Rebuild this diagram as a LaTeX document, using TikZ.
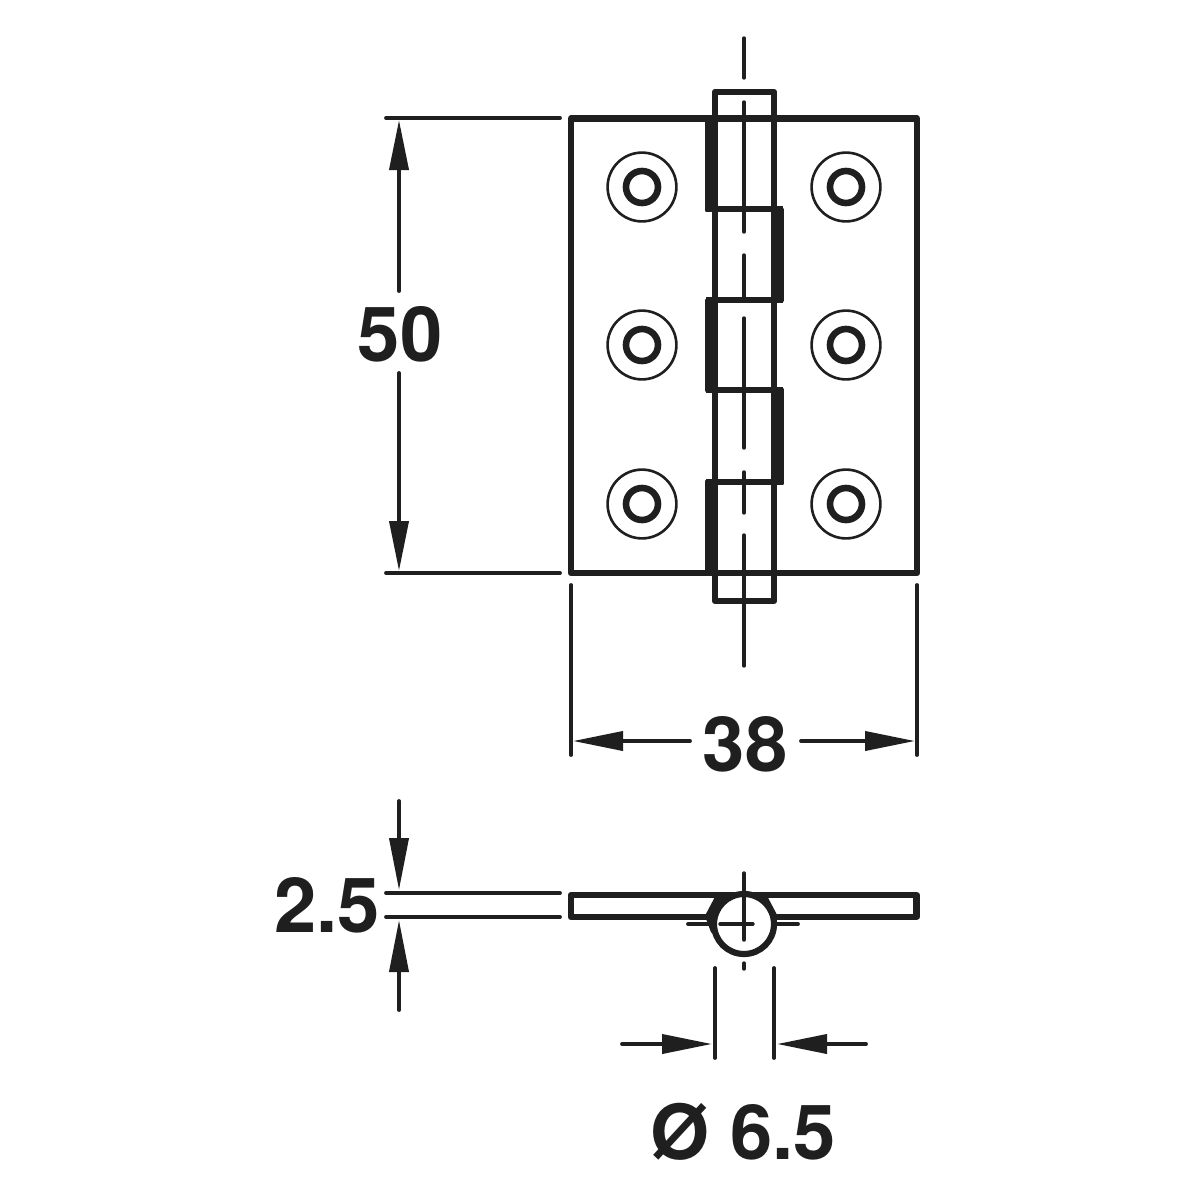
\documentclass[tikz,border=0pt]{standalone}
\usepackage{fontspec}
\setmainfont{TeX Gyre Heros}
\usetikzlibrary{arrows.meta}
\tikzset{
  thinl/.style={line width=1.9pt,line cap=round,black!88},
  center/.style={line width=1.7pt,line cap=round,black!88},
  part/.style={line width=3.3pt,line join=round,black!88},
  heavy/.style={fill=black!88,draw=black!88,line width=1pt,line join=round},
  dimtip/.style={-{Triangle[length=25pt,width=9.5pt]}},
  dimlabel/.style={font=\fontsize{38pt}{40pt}\bfseries\selectfont,inner sep=0pt,anchor=base,text=black!88}
}
\begin{document}
\begin{tikzpicture}[x=0.5pt,y=-0.5pt]
\useasboundingbox (0,0) rectangle (1200,1200);
% plate
\draw[part] (571,118.5) rectangle (917,573);
% pin end and thin edges
\draw[part] (715,118) -- (715,92) -- (774,92) -- (774,118);
\draw[part] (715,573) -- (715,601) -- (774,601) -- (774,573);
\draw[part] (774,118) -- (774,573);
\draw[part] (715,118) -- (715,573);
% knuckle separators
\draw[part] (706,209) -- (783,209);
\draw[part] (706,300) -- (783,300);
\draw[part] (706,390) -- (783,390);
\draw[part] (706,482) -- (783,482);
% thick knuckle edges
\fill[heavy] (706,118) rectangle (717,211);
\fill[heavy] (772,209) rectangle (783,301);
\fill[heavy] (706,300) rectangle (717,391);
\fill[heavy] (772,389) rectangle (783,484);
\fill[heavy] (706,481) rectangle (717,573);
% centre line
\draw[center] (744,38) -- (744,78);
\draw[center] (744,102) -- (744,232);
\draw[center] (744,255) -- (744,297);
\draw[center] (744,318) -- (744,448);
\draw[center] (744,472) -- (744,513);
\draw[center] (744,535) -- (744,666);
% screw holes
\foreach \hx in {642,846} \foreach \hy in {187,345,504} {
  \draw[line width=1.3pt,black!88] (\hx,\hy) circle[radius=17.2pt];
  \draw[line width=3.3pt,black!88] (\hx,\hy) circle[radius=8pt];
}
% height dimension
\coordinate (h1) at (386,118);
\coordinate (h1e) at (560,118);
\coordinate (h2) at (386,573);
\coordinate (h2e) at (560,573);
\draw[thinl] (h1) -- (h1e);
\draw[thinl] (h2) -- (h2e);
\node[dimlabel] (lab50) at (400,361) {50};
\coordinate (h3) at (399,291);
\coordinate (h3t) at (399,120);
\coordinate (h4) at (399,373);
\coordinate (h4t) at (399,571);
\draw[thinl,dimtip] (h3) -- (h3t);
\draw[thinl,dimtip] (h4) -- (h4t);
% width dimension
\coordinate (w1) at (571,585);
\coordinate (w1e) at (571,755);
\coordinate (w2) at (917,585);
\coordinate (w2e) at (917,755);
\draw[thinl] (w1) -- (w1e);
\draw[thinl] (w2) -- (w2e);
\node[dimlabel] (lab38) at (745,771) {38};
\coordinate (w3) at (690,741);
\coordinate (w3t) at (573,741);
\coordinate (w4) at (801,741);
\coordinate (w4t) at (915,741);
\draw[thinl,dimtip] (w3) -- (w3t);
\draw[thinl,dimtip] (w4) -- (w4t);
% side view
\draw[part] (571,895) rectangle (916.5,917);
\fill[heavy] (716,897) -- (706,916) -- (712,932) -- (724,905) -- (738,896) -- cycle;
\fill[heavy] (766,896) -- (776,915) -- (772,915) -- (756,899) -- cycle;
\draw[line width=3.1pt,black!88,fill=white] (744,924) circle[radius=15pt];
\draw[thinl] (688,924) -- (713,924);
\draw[thinl] (776,924) -- (798,924);
\draw[center] (720,924) -- (753,924);
\draw[center] (744,873) -- (744,940);
\draw[center] (744,963) -- (744,969);
% thickness dimension
\coordinate (t1) at (386,893);
\coordinate (t1e) at (560,893);
\coordinate (t2) at (386,917);
\coordinate (t2e) at (560,917);
\draw[thinl] (t1) -- (t1e);
\draw[thinl] (t2) -- (t2e);
\node[dimlabel] (lab25) at (327,932) {2.5};
\coordinate (t3) at (399,801);
\coordinate (t3t) at (399,890);
\coordinate (t4) at (399,1010);
\coordinate (t4t) at (399,920);
\draw[thinl,-{Triangle[length=26pt,width=9.5pt]}] (t3) -- (t3t);
\draw[thinl,-{Triangle[length=26pt,width=9.5pt]}] (t4) -- (t4t);
% diameter dimension
\coordinate (d1) at (715,968);
\coordinate (d1e) at (715,1058);
\coordinate (d2) at (774,968);
\coordinate (d2e) at (774,1058);
\draw[thinl] (d1) -- (d1e);
\draw[thinl] (d2) -- (d2e);
\coordinate (d3) at (622,1044);
\coordinate (d3t) at (712,1044);
\coordinate (d4) at (866,1044);
\coordinate (d4t) at (777,1044);
\draw[thinl,dimtip] (d3) -- (d3t);
\draw[thinl,dimtip] (d4) -- (d4t);
\node[dimlabel] (lab65) at (743,1159) {Ø 6.5};
\end{tikzpicture}
\end{document}
